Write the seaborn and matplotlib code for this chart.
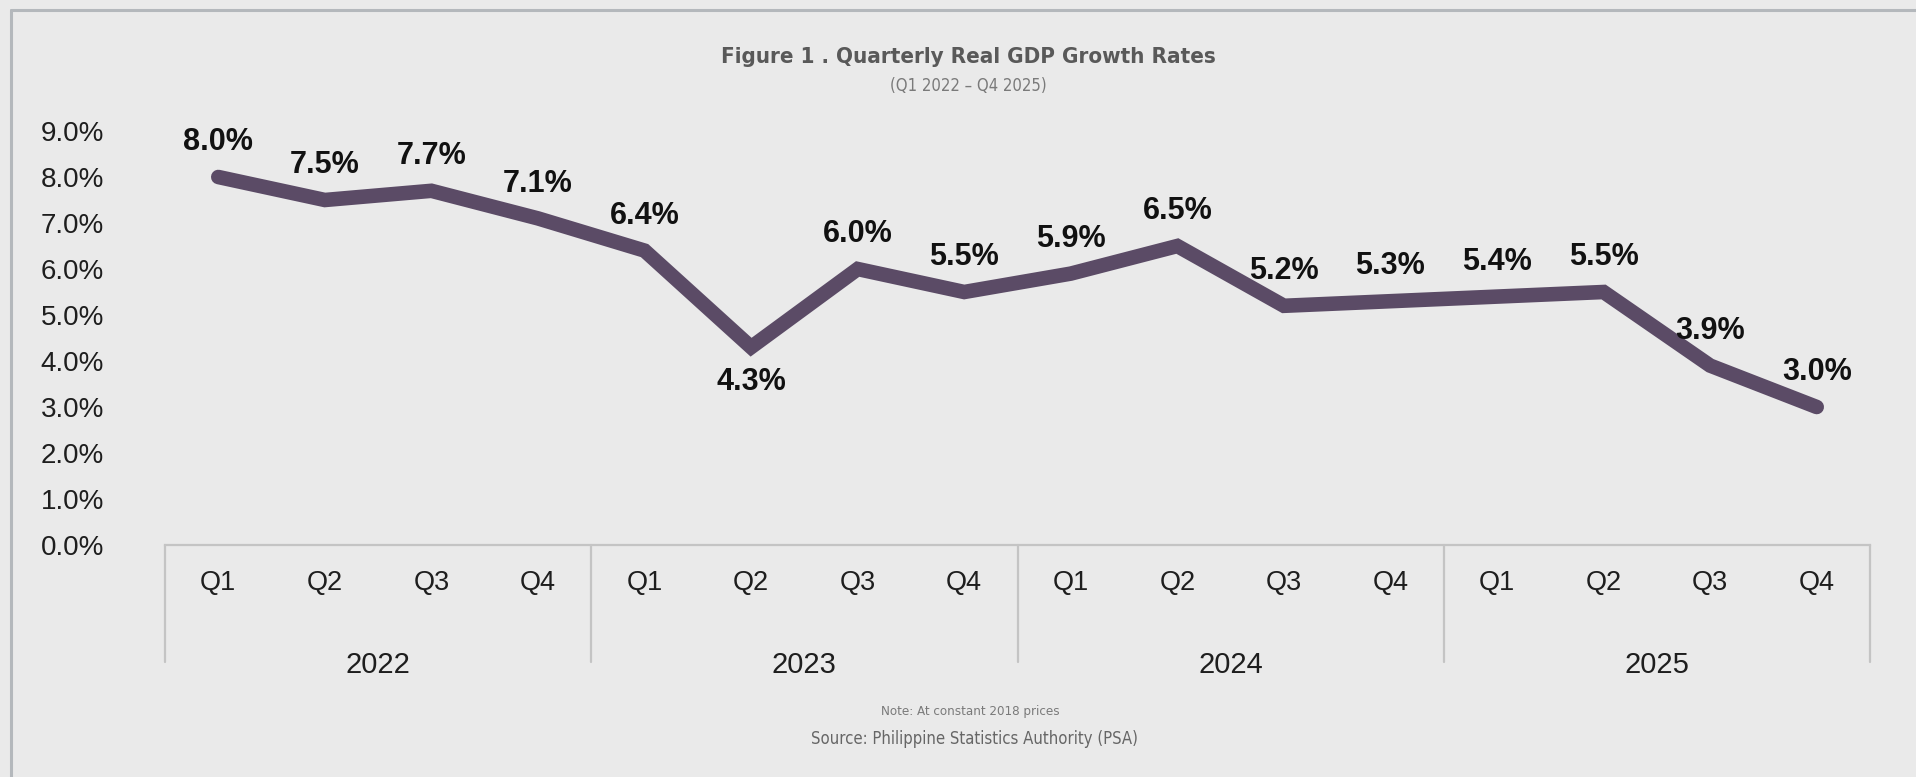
import matplotlib
matplotlib.use("Agg")
import matplotlib.pyplot as plt
from matplotlib.lines import Line2D
import pandas as pd
import seaborn as sns

# Quarterly real GDP growth, % year-on-year
years = ["2022", "2023", "2024", "2025"]
quarters = ["Q1", "Q2", "Q3", "Q4"]
growth = [8.0, 7.5, 7.7, 7.1,
          6.4, 4.3, 6.0, 5.5,
          5.9, 6.5, 5.2, 5.3,
          5.4, 5.5, 3.9, 3.0]
y_ticks = [0, 1, 2, 3, 4, 5, 6, 7, 8, 9]
labels_below = [5]  # index of the point whose label sits under the line

title = "Figure 1 . Quarterly Real GDP Growth Rates"
subtitle = "(Q1 2022 \u2013 Q4 2025)"
note = "Note: At constant 2018 prices"
source = "Source: Philippine Statistics Authority (PSA)"

BG = "#EAEAEA"
LINE = "#5B4B66"
AXIS = "#C4C4C4"
FRAME = "#B4B8BC"
TITLE_C = "#595959"
TEXT_C = "#1e1e1e"
LIGHT_FONT = ["Liberation Sans", "DejaVu Sans"]

sns.set_theme(style="white", rc={"axes.facecolor": BG, "figure.facecolor": BG})
plt.rcParams["font.family"] = ["Liberation Sans", "DejaVu Sans"]

W, H = 1916, 777
fig = plt.figure(figsize=(W / 100, H / 100), dpi=100, facecolor=BG)
ax_left, ax_right, ax_bottom, ax_top = 165, 1870, 545, 131
ax = fig.add_axes([ax_left / W, (H - ax_bottom) / H,
                   (ax_right - ax_left) / W, (ax_bottom - ax_top) / H])
ax.set_facecolor(BG)

n = len(years) * len(quarters)
df = pd.DataFrame({"pos": list(range(n)), "growth": growth})
sns.lineplot(data=df, x="pos", y="growth", ax=ax, color=LINE, linewidth=10.5,
             solid_capstyle="round", solid_joinstyle="miter", clip_on=False)

ax.set_xlim(-0.5, n - 0.5)
ax.set_ylim(y_ticks[0], y_ticks[-1])
ax.set_xlabel("")
ax.set_ylabel("")

for side in ["top", "right", "left"]:
    ax.spines[side].set_visible(False)
ax.spines["bottom"].set_color(AXIS)
ax.spines["bottom"].set_linewidth(1.6)

ax.set_yticks(y_ticks)
ax.set_yticklabels([f"{v:.1f}%" for v in y_ticks])
ax.tick_params(axis="y", length=0, pad=44, labelsize=20, labelcolor=TEXT_C)
ax.set_xticks([])

# value labels
for i, v in enumerate(growth):
    dy = -25 if i in labels_below else 25
    ax.annotate(f"{v:.1f}%", xy=(i, v), xytext=(0, dy), textcoords="offset points",
                ha="center", va="center", fontsize=22, fontweight="bold",
                color="#111111", annotation_clip=False)

# two-level category axis
px = 0.72  # points per pixel at 100 dpi
for i in range(n):
    ax.annotate(quarters[i % 4], xy=(i, 0), xycoords=("data", "axes fraction"),
                xytext=(0, -38 * px), textcoords="offset points",
                ha="center", va="center", fontsize=19.5, color=TEXT_C,
                fontfamily=LIGHT_FONT, annotation_clip=False)
axis_h = ax_bottom - ax_top
trans = ax.get_xaxis_transform()
for g in range(len(years) + 1):
    xb = g * 4 - 0.5
    ax.add_line(Line2D([xb, xb], [0, -117 / axis_h], transform=trans,
                       color=AXIS, linewidth=1.6, clip_on=False))
for g, yr in enumerate(years):
    ax.annotate(yr, xy=(g * 4 + 1.5, 0), xycoords=("data", "axes fraction"),
                xytext=(0, -120 * px), textcoords="offset points",
                ha="center", va="center", fontsize=21, color=TEXT_C,
                fontfamily=LIGHT_FONT, annotation_clip=False)

# titles and footnotes
fig.text(968 / W, 1 - 57 / H, title, ha="center", va="center", fontsize=16,
         fontweight="bold", color=TITLE_C, fontfamily="DejaVu Sans",
         fontstretch="condensed")
fig.text(968 / W, 1 - 86 / H, subtitle, ha="center", va="center", fontsize=12,
         color="#7a7a7a", fontfamily="DejaVu Sans", fontstretch="condensed")
fig.text(970 / W, 1 - 711 / H, note, ha="center", va="center", fontsize=9.5,
         color="#7a7a7a", fontfamily="DejaVu Sans", fontstretch="condensed")
fig.text(974 / W, 1 - 739 / H, source, ha="center", va="center", fontsize=12,
         color="#666666", fontfamily="DejaVu Sans", fontstretch="condensed")

# outer frame (top and left edges)
fig.add_artist(Line2D([11 / W, 1], [1 - 10 / H, 1 - 10 / H], transform=fig.transFigure,
                      color=FRAME, linewidth=2.2))
fig.add_artist(Line2D([11 / W, 11 / W], [0, 1 - 10 / H], transform=fig.transFigure,
                      color=FRAME, linewidth=2.2))

fig.savefig("out.png", dpi=100, facecolor=BG)
